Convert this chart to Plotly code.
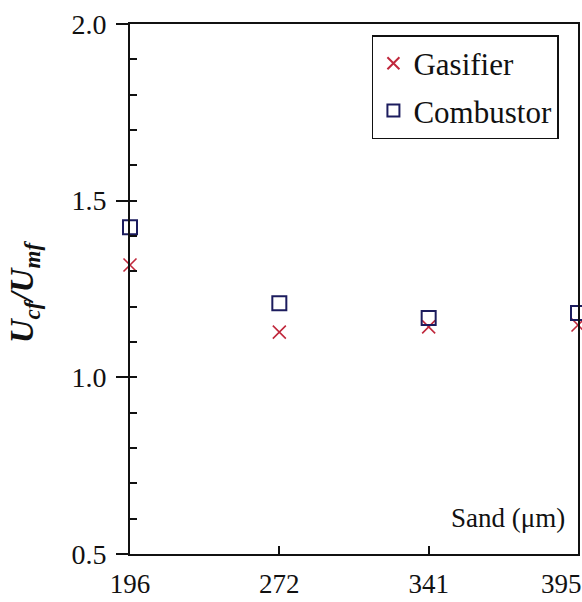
import plotly.graph_objects as go

# Sand particle sizes (µm) and the measured velocity ratios
sand_sizes = ["196", "272", "341", "395"]
gasifier_ratio = [1.318, 1.128, 1.143, 1.148]
combustor_ratio = [1.425, 1.210, 1.168, 1.182]

positions = list(range(len(sand_sizes)))
# the last label sits flush with the right edge, so pad it on the right
tick_text = sand_sizes[:-1] + [sand_sizes[-1] + "\u00a0" * 5]
FONT = "Liberation Serif, DejaVu Serif, serif"

fig = go.Figure()

fig.add_trace(go.Scatter(
    x=positions, y=gasifier_ratio, mode="markers", name="Gasifier",
    legendgroup="gasifier",
    marker=dict(symbol="x-thin-open", size=13, color="#c0283c",
                line=dict(width=1.6, color="#c0283c")),
    cliponaxis=False,
))
fig.add_trace(go.Scatter(
    x=positions, y=combustor_ratio, mode="markers", name="Combustor",
    legendgroup="combustor",
    marker=dict(symbol="square-open", size=14, color="#1c1c5e",
                line=dict(width=2, color="#1c1c5e")),
    cliponaxis=False,
))
# invisible trace that carries the inside tick overlay axis
fig.add_trace(go.Scatter(x=[0], y=[1.0], yaxis="y2", mode="markers",
                         marker=dict(opacity=0), showlegend=False,
                         hoverinfo="skip"))

fig.update_layout(
    width=582, height=602,
    margin=dict(l=130, r=4, t=24, b=48, autoexpand=False),
    paper_bgcolor="white", plot_bgcolor="white",
    font=dict(family=FONT, size=27, color="#111111"),
    showlegend=True,
    legend=dict(
        x=0.54, y=0.979, xanchor="left", yanchor="top",
        bordercolor="#111111", borderwidth=1.5, bgcolor="white",
        font=dict(family=FONT, size=31, color="#111111"),
        itemsizing="constant", tracegroupgap=4,
    ),
    xaxis=dict(
        range=[0, 3], tickmode="array", tickvals=positions, ticktext=tick_text,
        ticks="inside", ticklen=8, tickwidth=1.5, tickcolor="#111111",
        showline=True, linecolor="#111111", linewidth=2, mirror=True,
        showgrid=False, zeroline=False, ticklabelstandoff=5,
        ticklabeloverflow="allow", automargin=False,
        tickfont=dict(family=FONT, size=27, color="#111111"),
    ),
    yaxis=dict(
        range=[0.5, 2.0], tickmode="array", tickvals=[0.5, 1.0, 1.5, 2.0],
        ticktext=["0.5", "1.0", "1.5", "2.0"],
        ticks="outside", ticklen=12, tickwidth=1.5, tickcolor="#111111",
        showline=True, linecolor="#111111", linewidth=2, mirror=True,
        showgrid=False, zeroline=False, ticklabelstandoff=4,
        ticklabeloverflow="allow", automargin=False,
        tickfont=dict(family=FONT, size=28, color="#111111"),
    ),
    yaxis2=dict(
        overlaying="y", side="left", range=[0.5, 2.0],
        tickmode="linear", tick0=0.5, dtick=0.1, automargin=False,
        ticks="inside", ticklen=7, tickwidth=1.5, tickcolor="#111111",
        showticklabels=False, showgrid=False, zeroline=False, showline=False,
    ),
)

fig.add_annotation(
    text="<b><i>U<sub>cf</sub>/U<sub>mf</sub></i></b>",
    xref="paper", yref="paper", x=-0.235, y=0.495,
    xanchor="center", yanchor="middle", textangle=-90, showarrow=False,
    font=dict(family=FONT, size=33, color="#111111"),
)
fig.add_annotation(
    text="Sand (\u03bcm)",
    xref="paper", yref="paper", x=0.975, y=0.068,
    xanchor="right", yanchor="middle", showarrow=False,
    font=dict(family=FONT, size=27, color="#111111"),
)

fig.write_html("out.html")
